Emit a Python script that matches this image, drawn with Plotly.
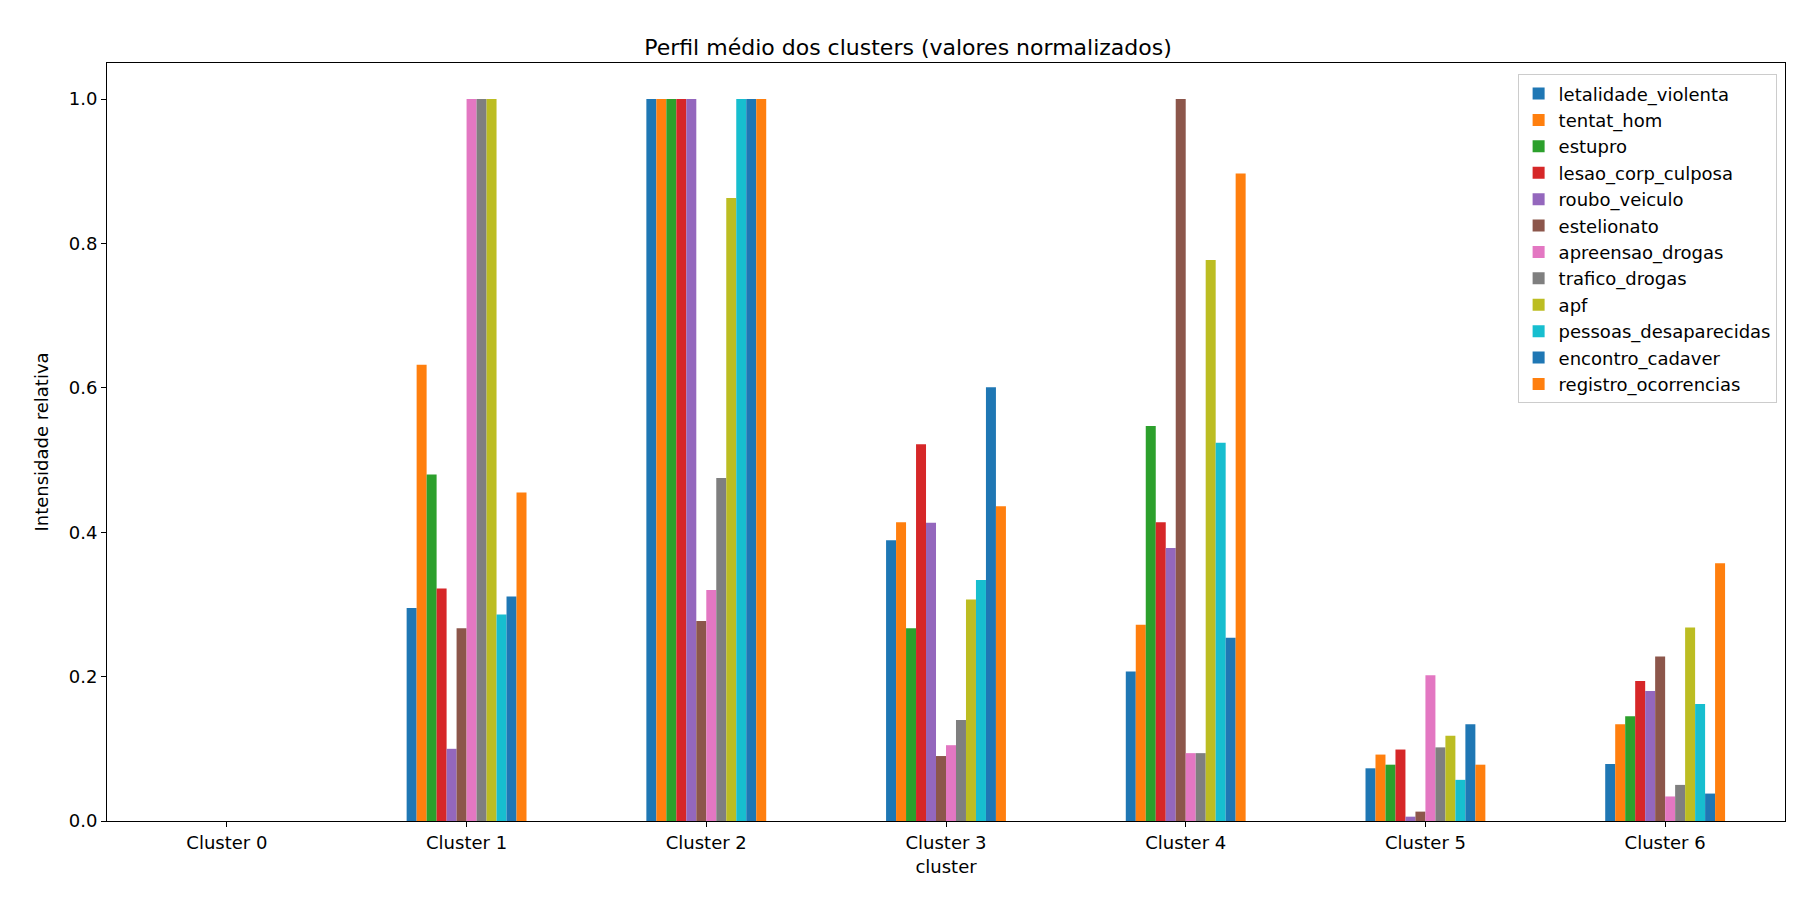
import plotly.graph_objects as go

clusters = ["Cluster 0", "Cluster 1", "Cluster 2", "Cluster 3", "Cluster 4", "Cluster 5", "Cluster 6"]
variables = ["letalidade_violenta", "tentat_hom", "estupro", "lesao_corp_culposa", "roubo_veiculo",
             "estelionato", "apreensao_drogas", "trafico_drogas", "apf", "pessoas_desaparecidas",
             "encontro_cadaver", "registro_ocorrencias"]

letalidade_violenta = [0, 0.295, 1.0, 0.389, 0.207, 0.073, 0.079]
tentat_hom = [0, 0.632, 1.0, 0.414, 0.272, 0.092, 0.134]
estupro = [0, 0.480, 1.0, 0.267, 0.547, 0.078, 0.145]
lesao_corp_culposa = [0, 0.322, 1.0, 0.522, 0.414, 0.099, 0.194]
roubo_veiculo = [0, 0.100, 1.0, 0.413, 0.378, 0.006, 0.180]
estelionato = [0, 0.267, 0.277, 0.090, 1.0, 0.013, 0.228]
apreensao_drogas = [0, 1.0, 0.320, 0.105, 0.094, 0.202, 0.034]
trafico_drogas = [0, 1.0, 0.475, 0.140, 0.094, 0.102, 0.050]
apf = [0, 1.0, 0.863, 0.307, 0.777, 0.118, 0.268]
pessoas_desaparecidas = [0, 0.286, 1.0, 0.334, 0.524, 0.057, 0.162]
encontro_cadaver = [0, 0.311, 1.0, 0.601, 0.254, 0.134, 0.038]
registro_ocorrencias = [0, 0.455, 1.0, 0.436, 0.897, 0.078, 0.357]

series = [letalidade_violenta, tentat_hom, estupro, lesao_corp_culposa, roubo_veiculo, estelionato,
          apreensao_drogas, trafico_drogas, apf, pessoas_desaparecidas, encontro_cadaver, registro_ocorrencias]

tab10 = ["#1f77b4", "#ff7f0e", "#2ca02c", "#d62728", "#9467bd", "#8c564b",
         "#e377c2", "#7f7f7f", "#bcbd22", "#17becf"]

fig = go.Figure()
for i, (name, vals) in enumerate(zip(variables, series)):
    fig.add_trace(go.Bar(x=clusters, y=vals, name=name, marker_color=tab10[i % 10], marker_line_width=0))

axis_common = dict(showline=True, linecolor="black", mirror=True, ticks="outside",
                   tickcolor="black", showgrid=False, zeroline=False, tickfont=dict(size=18))
fig.update_layout(
    width=1800, height=900, barmode="group", bargap=0.5, bargroupgap=0,
    plot_bgcolor="white", paper_bgcolor="white",
    font=dict(family="DejaVu Sans", size=18, color="black"),
    title=dict(text="Perfil médio dos clusters (valores normalizados)", x=0.5, xanchor="center",
               y=0.965, font=dict(size=22)),
    margin=dict(l=99, r=23, t=55, b=87),
    xaxis=dict(title=dict(text="cluster", standoff=8, font=dict(size=18)), **axis_common),
    yaxis=dict(title=dict(text="Intensidade relativa", font=dict(size=18)), range=[0, 1.05], dtick=0.2,
               tickformat=".1f", **axis_common),
    legend=dict(x=0.995, y=0.985, xanchor="right", yanchor="top", bordercolor="#cccccc",
                borderwidth=1, bgcolor="rgba(255,255,255,0.8)", font=dict(size=18),
                tracegroupgap=0),
)
fig.write_html("out.html")
